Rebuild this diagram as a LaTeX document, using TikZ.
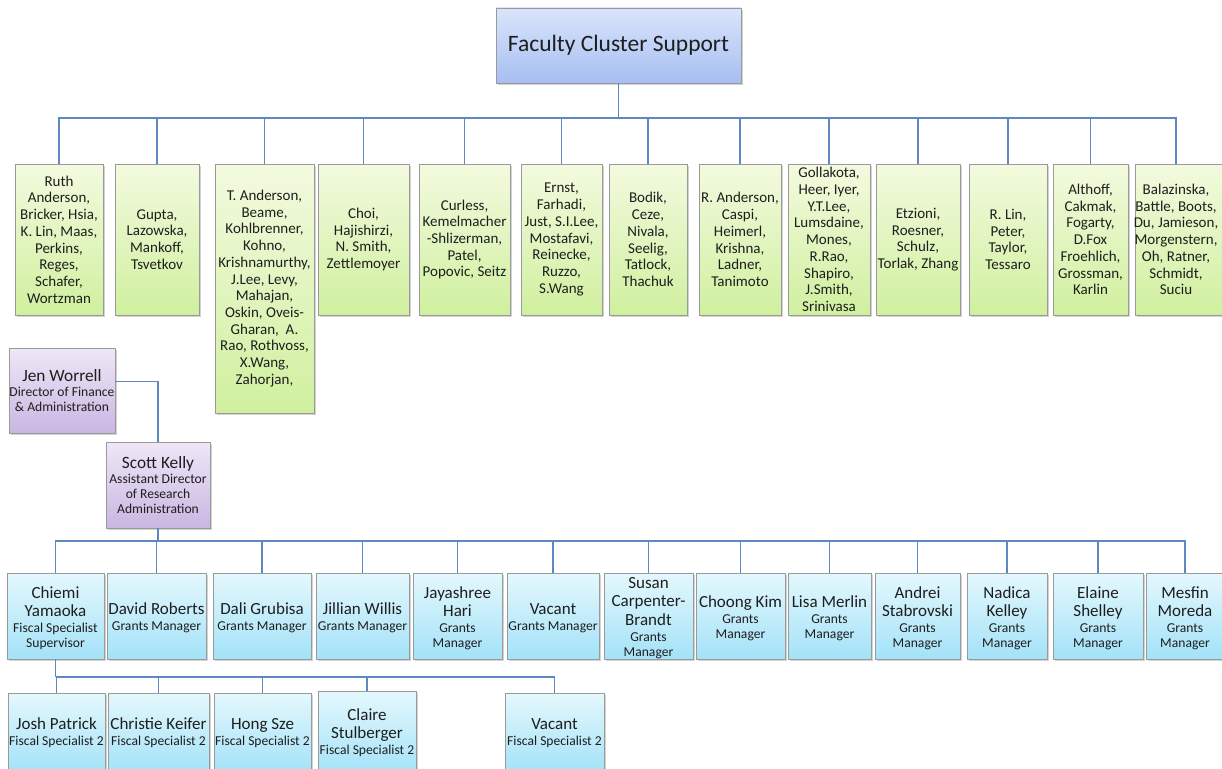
\documentclass[tikz,border=0pt]{standalone}
\usepackage{fontspec}
\setmainfont{Carlito}
\usetikzlibrary{shadows,calc}
\definecolor{gtop}{HTML}{F3FADF}
\definecolor{gbot}{HTML}{D0F09F}
\definecolor{btop}{HTML}{E4F8FD}
\definecolor{bbot}{HTML}{A3E2F8}
\definecolor{ptop}{HTML}{EFE7F7}
\definecolor{pbot}{HTML}{C9B6E2}
\definecolor{ttop}{HTML}{DAE5FB}
\definecolor{tbot}{HTML}{A6BEF2}
\definecolor{linec}{HTML}{5E88C2}
\definecolor{borderc}{HTML}{9A9A9A}
\definecolor{textc}{HTML}{1E1E1E}
\newcommand{\fgrn}{\fontsize{15}{16.7}\selectfont}
\newcommand{\fname}{\fontsize{17}{18.3}\selectfont}
\newcommand{\fsubt}{\fontsize{13.6}{14.8}\selectfont}
\newcommand{\fjen}{\fontsize{17.3}{18.5}\selectfont}
\newcommand{\ftopx}{\fontsize{23.5}{26}\selectfont}
\newcommand{\nsep}{\par\vspace{1.2pt}\fsubt}
\begin{document}
\begin{tikzpicture}[x=1pt,y=-1pt,
  box/.style={draw=borderc, line width=0.9pt, inner sep=0pt,
    drop shadow={shadow xshift=1.6pt, shadow yshift=-1.8pt, opacity=0.35}},
  gbox/.style={box, top color=gtop, bottom color=gbot},
  bbox/.style={box, top color=btop, bottom color=bbot},
  pbox/.style={box, top color=ptop, bottom color=pbot},
  tbox/.style={box, top color=ttop, bottom color=tbot},
  txt/.style={text width=300pt, align=flush center, inner sep=0pt, text=textc},
  btxt/.style={txt, yshift=-2pt},
  gtxt/.style={txt, font=\fgrn},
  conn/.style={draw=linec, line width=1.2pt},
  greenrow/.style={gbox, minimum height=151pt},
  bluerow/.style={bbox, minimum height=86pt},
  fiscrow/.style={bbox, minimum height=80pt}
]
\useasboundingbox (0,0) rectangle (1222,768);
\clip (0,0) rectangle (1222,768);

% ---------- top ----------
\node[tbox, minimum width=245pt, minimum height=75pt] (top) at (618.5,45.5) {};
\node[txt, font=\ftopx] (topt) at (top) {Faculty Cluster Support};

% ---------- green row ----------
\node[greenrow, minimum width=88pt] (g1) at (59,239.5) {};
\node[gtxt] (g1t) at (g1) {Ruth\\Anderson,\\Bricker, Hsia,\\K. Lin, Maas,\\Perkins,\\Reges,\\Schafer,\\Wortzman};
\node[greenrow, minimum width=84pt] (g2) at (157,239.5) {};
\node[gtxt] (g2t) at (g2) {Gupta,\\Lazowska,\\Mankoff,\\Tsvetkov};
\node[gbox, minimum width=99pt, minimum height=249pt] (g3) at (264.5,288.5) {};
\node[gtxt] (g3t) at (g3) {T. Anderson,\\Beame,\\Kohlbrenner,\\Kohno,\\Krishnamurthy,\\J.Lee, Levy,\\Mahajan,\\Oskin, Oveis-\\Gharan,\ \ A.\\Rao, Rothvoss,\\X.Wang,\\Zahorjan,};
\node[greenrow, minimum width=91pt] (g4) at (363.5,239.5) {};
\node[gtxt] (g4t) at (g4) {Choi,\\Hajishirzi,\\N. Smith,\\Zettlemoyer};
\node[greenrow, minimum width=91pt] (g5) at (464.5,239.5) {};
\node[gtxt] (g5t) at (g5) {Curless,\\Kemelmacher\\-Shlizerman,\\Patel,\\Popovic, Seitz};
\node[greenrow, minimum width=81pt] (g6) at (561.5,239.5) {};
\node[gtxt] (g6t) at (g6) {Ernst,\\Farhadi,\\Just, S.I.Lee,\\Mostafavi,\\Reinecke,\\Ruzzo,\\S.Wang};
\node[greenrow, minimum width=78pt] (g7) at (648,239.5) {};
\node[gtxt] (g7t) at (g7) {Bodik,\\Ceze,\\Nivala,\\Seelig,\\Tatlock,\\Thachuk};
\node[greenrow, minimum width=82pt] (g8) at (740,239.5) {};
\node[gtxt] (g8t) at (g8) {R. Anderson,\\Caspi,\\Heimerl,\\Krishna,\\Ladner,\\Tanimoto};
\node[greenrow, minimum width=82pt] (g9) at (829,239.5) {};
\node[gtxt] (g9t) at (g9) {Gollakota,\\Heer, Iyer,\\Y.T.Lee,\\Lumsdaine,\\Mones,\\R.Rao,\\Shapiro,\\J.Smith,\\Srinivasa};
\node[greenrow, minimum width=84pt] (g10) at (918,239.5) {};
\node[gtxt] (g10t) at (g10) {Etzioni,\\Roesner,\\Schulz,\\Torlak, Zhang};
\node[greenrow, minimum width=78pt] (g11) at (1008,239.5) {};
\node[gtxt] (g11t) at (g11) {R. Lin,\\Peter,\\Taylor,\\Tessaro};
\node[greenrow, minimum width=75pt] (g12) at (1090.5,239.5) {};
\node[gtxt] (g12t) at (g12) {Althoff,\\Cakmak,\\Fogarty,\\D.Fox\\Froehlich,\\Grossman,\\Karlin};
\node[greenrow, minimum width=100pt] (g13) at (1185,239.5) {};
\node[gtxt] (g13t) at (1176,239.5) {Balazinska,\\Battle, Boots,\\Du, Jamieson,\\Morgenstern,\\Oh, Ratner,\\Schmidt,\\Suciu};

\coordinate (tb) at (618.5,118);
\draw[conn] (top.south) -- (tb);
\foreach \g in {g1,g2,g3,g4,g5,g6,g7,g8,g9,g10,g11,g12}
  \draw[conn] (\g.north) |- (tb);
\draw[conn] (g13t.center |- g13.north) |- (tb);

% ---------- purple ----------
\node[pbox, minimum width=106pt, minimum height=85pt] (jen) at (62,390.5) {};
\node[txt] (jent) at (jen) {\fjen Jen Worrell\par\fsubt Director of Finance\\\& Administration\par};
\node[pbox, minimum width=104pt, minimum height=86pt] (scott) at (158,485) {};
\node[txt] (scottt) at (scott) {\fjen Scott Kelly\par\fsubt Assistant Director\\of Research\\Administration\par};
\draw[conn] ($(jen.east)+(0,-9)$) -| (scott.north);

% ---------- blue row ----------
\node[bluerow, minimum width=97pt] (b1) at (55.5,616) {};
\node[btxt] (b1t) at (b1) {\fname Chiemi\\Yamaoka\nsep Fiscal Specialist\\Supervisor\par};
\node[bluerow, minimum width=99pt] (b2) at (156.5,616) {};
\node[btxt] (b2t) at (b2) {\fname David Roberts\nsep Grants Manager\par};
\node[bluerow, minimum width=98pt] (b3) at (262,616) {};
\node[btxt] (b3t) at (b3) {\fname Dali Grubisa\nsep Grants Manager\par};
\node[bluerow, minimum width=93pt] (b4) at (362.5,616) {};
\node[btxt] (b4t) at (b4) {\fname Jillian Willis\nsep Grants Manager\par};
\node[bluerow, minimum width=89pt] (b5) at (457.5,616) {};
\node[btxt] (b5t) at (b5) {\fname Jayashree\\Hari\nsep Grants\\Manager\par};
\node[bluerow, minimum width=92pt] (b6) at (553,616) {};
\node[btxt] (b6t) at (b6) {\fname Vacant\nsep Grants Manager\par};
\node[bluerow, minimum width=89pt] (b7) at (648.5,616) {};
\node[btxt] (b7t) at (b7) {\fname Susan\\Carpenter-\\Brandt\nsep Grants\\Manager\par};
\node[bluerow, minimum width=89pt] (b8) at (740.5,616) {};
\node[btxt] (b8t) at (b8) {\fname Choong Kim\nsep Grants\\Manager\par};
\node[bluerow, minimum width=83pt] (b9) at (829.5,616) {};
\node[btxt] (b9t) at (b9) {\fname Lisa Merlin\nsep Grants\\Manager\par};
\node[bluerow, minimum width=85pt] (b10) at (917.5,616) {};
\node[btxt] (b10t) at (b10) {\fname Andrei\\Stabrovski\nsep Grants\\Manager\par};
\node[bluerow, minimum width=80pt] (b11) at (1007,616) {};
\node[btxt] (b11t) at (b11) {\fname Nadica\\Kelley\nsep Grants\\Manager\par};
\node[bluerow, minimum width=90pt] (b12) at (1098,616) {};
\node[btxt] (b12t) at (b12) {\fname Elaine\\Shelley\nsep Grants\\Manager\par};
\node[bluerow, minimum width=90pt] (b13) at (1191,616) {};
\node[btxt] (b13t) at (1185,616) {\fname Mesfin\\Moreda\nsep Grants\\Manager\par};

\coordinate (bb) at (158,541);
\draw[conn] (scott.south) -- (bb);
\foreach \b in {b1,b2,b3,b4,b5,b6,b7,b8,b9,b10,b11,b12}
  \draw[conn] (\b.north) |- (bb);
\draw[conn] (b13t.center |- b13.north) |- (bb);

% ---------- fiscal row ----------
\node[fiscrow, minimum width=97pt] (f1) at (56.5,733) {};
\node[txt] (f1t) at (f1) {\fname Josh Patrick\nsep Fiscal Specialist 2\par};
\node[fiscrow, minimum width=101pt] (f2) at (158.5,733) {};
\node[txt] (f2t) at (f2) {\fname Christie Keifer\nsep Fiscal Specialist 2\par};
\node[fiscrow, minimum width=97pt] (f3) at (262.5,733) {};
\node[txt] (f3t) at (f3) {\fname Hong Sze\nsep Fiscal Specialist 2\par};
\node[bbox, minimum width=98pt, minimum height=84pt] (f4) at (367,733) {};
\node[txt] (f4t) at (f4) {\fname Claire\\Stulberger\nsep Fiscal Specialist 2\par};
\node[fiscrow, minimum width=99pt] (f5) at (554.5,733) {};
\node[txt] (f5t) at (f5) {\fname Vacant\nsep Fiscal Specialist 2\par};

\coordinate (fb) at (55.5,677);
\draw[conn] (b1.south) -- (fb);
\foreach \f in {f1,f2,f3,f4,f5}
  \draw[conn] (\f.north) |- (fb);
\end{tikzpicture}
\end{document}
